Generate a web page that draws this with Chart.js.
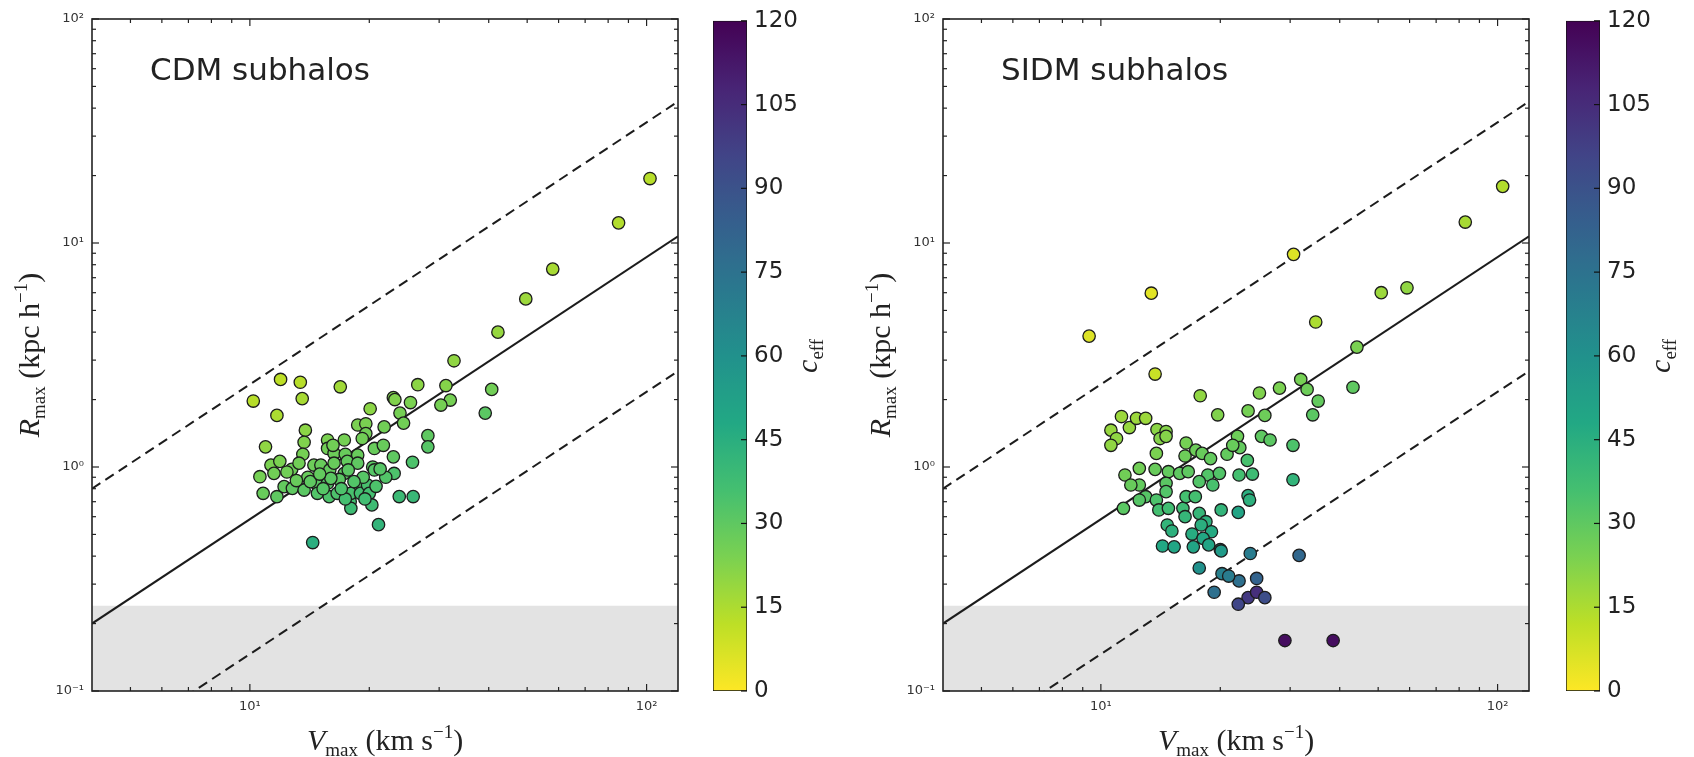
<!DOCTYPE html>
<html>
<head>
<meta charset="utf-8">
<script src="https://cdn.jsdelivr.net/npm/chart.js@4.4.0/dist/chart.umd.min.js"></script>
<style>
  html, body { margin: 0; padding: 0; background: #fff; }
  body { width: 1694px; height: 757px; position: relative; overflow: hidden; }
  canvas { position: absolute; top: 0; }
</style>
</head>
<body>
<canvas id="cdmCanvas" width="700" height="757" style="left:0px"></canvas>
<canvas id="cdmBar" width="130" height="757" style="left:713px"></canvas>
<canvas id="sidmCanvas" width="700" height="757" style="left:851px"></canvas>
<canvas id="sidmBar" width="130" height="757" style="left:1566px"></canvas>
<script>
// CDM subhalos (Vmax in km/s, Rmax in kpc/h, c_eff)
var cdmVmax = [
  102, 85, 58, 49.6, 42.2, 32.7, 31.2, 32.0, 30.3, 40.7,
  39.2, 26.5, 23.0, 23.2, 25.4, 23.9, 24.4, 21.8, 28.1, 28.1,
  25.7, 23.1, 23.8, 25.8, 21.1, 14.4, 10.2, 11.95, 13.4, 13.55,
  16.9, 11.7, 20.1, 10.95, 13.8, 13.7, 13.6,
  15.7, 17.3, 18.7, 19.6, 19.6, 19.2, 15.7, 16.3, 17.4, 18.7, 20.6, 21.7, 23.0,
  11.3, 11.9, 11.5, 10.6, 12.75, 13.3, 14.5, 15.1, 15.9, 16.3, 17.3, 17.6, 18.7, 20.4, 20.6, 22.0,
  10.8, 11.7, 12.2, 12.8, 13.7, 14.8, 14.8, 15.7, 15.85, 16.6, 17.9, 17.97, 17.97, 17.4, 18.9, 19.0, 19.8, 20.0, 20.3,
  12.4, 14.0, 16.8, 19.3, 21.3,
  14.2, 15.3, 16.0, 17.0, 18.3, 19.5, 20.8, 13.1, 15.0, 17.7, 16.2
];
var cdmRmax = [
  19.4, 12.3, 7.65, 5.63, 4.0, 2.98, 2.31, 1.99, 1.89, 2.22,
  1.74, 2.33, 2.04, 2.0, 1.94, 1.74, 1.57, 1.51, 1.38, 1.23,
  1.05, 0.936, 0.738, 0.738, 0.553, 0.46, 1.97, 2.46, 2.39, 2.02,
  2.28, 1.70, 1.82, 1.23, 1.46, 1.29, 1.14,
  1.32, 1.32, 1.54, 1.56, 1.41, 1.34, 1.21, 1.15, 1.14, 1.13, 1.21, 1.25, 1.11,
  1.02, 1.06, 0.937, 0.905, 0.976, 1.04, 1.02, 1.02, 0.97, 1.04, 0.937, 1.06, 1.04, 1.0, 0.97, 0.90,
  0.763, 0.737, 0.817, 0.803, 0.789, 0.831, 0.763, 0.846, 0.737, 0.763, 0.70, 0.763, 0.654, 0.72, 0.831, 0.763, 0.831, 0.763, 0.677,
  0.95, 0.90, 0.88, 0.90, 0.98,
  0.86, 0.80, 0.89, 0.80, 0.86, 0.72, 0.82, 0.87, 0.93, 0.97, 1.25
];
var cdmCeff = [
  13, 14, 16, 18, 19, 20, 22, 25, 25, 26,
  31, 21, 23, 23, 24, 25, 26, 26, 30, 32,
  34, 34, 39, 40, 42, 45, 13, 12, 13, 16,
  17, 15, 21, 20, 21, 23, 25,
  24, 25, 24, 24, 26, 26, 26, 27, 28, 28, 28, 28, 30,
  24, 24, 26, 25, 27, 26, 27, 28, 29, 28, 30, 29, 30, 31, 32, 33,
  28, 30, 29, 30, 31, 31, 33, 32, 34, 34, 36, 35, 38, 36, 34, 36, 35, 36, 38,
  26, 28, 31, 32, 32,
  30, 32, 31, 34, 33, 37, 34, 28, 29, 31, 26
];

// SIDM subhalos
var sidmVmax = [
  103, 82.9, 30.6, 13.4, 9.34, 13.7, 50.9, 59.1, 34.8, 44.2,
  43.2, 31.9, 33.1, 35.3, 34.2, 28.2, 25.1, 23.5, 25.9, 17.8,
  19.7, 25.4, 26.7, 30.5, 30.5, 31.6, 23.8, 29.1, 38.5, 23.5,
  24.1, 23.4, 22.2, 22.3, 24.7, 23.5, 22.2, 24.7, 25.9, 19.3,
  20.2, 21.0, 17.7, 20.0,
  11.27, 10.6, 10.95, 10.6, 11.8, 12.3, 12.97, 13.85, 14.6, 14.1,
  14.6, 13.8, 16.4, 16.3, 17.35, 18.0, 18.9, 20.8, 22.1, 22.4,
  21.5, 22.3, 11.5, 12.5, 13.7, 14.8, 15.8, 16.6, 18.6, 19.9,
  19.15, 17.7, 12.5, 11.9, 14.6, 14.6, 12.97, 12.5, 13.8, 11.4,
  14.0, 14.8, 16.1, 16.4, 17.3, 16.3, 17.7, 18.4, 19.0, 17.9,
  14.7, 15.1, 16.97, 18.1, 14.3, 15.3, 17.1, 18.7, 20.1, 20.1,
  23.7
];
var sidmRmax = [
  17.9, 12.4, 8.9, 5.97, 3.84, 2.6, 6.0, 6.31, 4.44, 3.43,
  2.27, 2.46, 2.22, 1.97, 1.71, 2.25, 2.14, 1.78, 1.70, 2.08,
  1.71, 1.37, 1.32, 1.25, 0.877, 0.403, 0.411, 0.168, 0.168, 0.745,
  0.93, 1.07, 0.627, 0.31, 0.318, 0.261, 0.244, 0.276, 0.261, 0.276,
  0.334, 0.326, 0.354, 0.428,
  1.68, 1.46, 1.34, 1.25, 1.50, 1.65, 1.65, 1.47, 1.44, 1.34,
  1.37, 1.15, 1.28, 1.12, 1.19, 1.15, 1.09, 1.14, 1.37, 1.22,
  1.25, 0.921, 0.921, 0.986, 0.976, 0.953, 0.937, 0.953, 0.921, 0.937,
  0.831, 0.86, 0.831, 0.831, 0.846, 0.776, 0.737, 0.712, 0.712, 0.654,
  0.643, 0.654, 0.654, 0.737, 0.737, 0.60, 0.621, 0.57, 0.514, 0.551,
  0.551, 0.518, 0.502, 0.48, 0.444, 0.44, 0.44, 0.449, 0.422, 0.643,
  0.712
];
var sidmCeff = [
  14, 16, 6, 5, 6, 10, 18, 20, 15, 24,
  30, 25, 27, 29, 31, 24, 23, 25, 27, 20,
  23, 30, 31, 34, 42, 80, 70, 116, 116, 45,
  38, 35, 50, 76, 82, 100, 95, 104, 92, 76,
  68, 70, 60, 58,
  18, 19, 20, 20, 19, 18, 18, 21, 22, 22,
  22, 24, 25, 27, 27, 28, 29, 29, 27, 29,
  28, 36, 26, 26, 28, 29, 30, 30, 33, 33,
  35, 33, 29, 28, 31, 33, 32, 32, 34, 31,
  36, 37, 38, 36, 36, 41, 41, 44, 47, 45,
  42, 44, 46, 48, 48, 49, 50, 50, 55, 42,
  44
];

// reference relation and its factor-of-4 band
var lineVmax = [4, 120];
var lineRmax = [0.2, 10.7];
var upperRmax = [0.8, 42.8];
var lowerRmax = [0.05, 2.68];
var resolutionRmax = 0.24;

var xMajorTicks = [10, 100];
var xMinorTicks = [5, 6, 7, 8, 9, 20, 30, 40, 50, 60, 70, 80, 90];
var yMajorTicks = [0.1, 1, 10, 100];
var yMinorTicks = [0.2, 0.3, 0.4, 0.5, 0.6, 0.7, 0.8, 0.9, 2, 3, 4, 5, 6, 7, 8, 9, 20, 30, 40, 50, 60, 70, 80, 90];
var ceffTicks = [0, 15, 30, 45, 60, 75, 90, 105, 120];

var viridisStops = ['#440154', '#482475', '#414487', '#355f8d', '#2a788e', '#21918c',
                    '#22a884', '#44bf70', '#7ad151', '#bddf26', '#fde725'];

function hexRgb(h) {
  return [parseInt(h.substr(1, 2), 16), parseInt(h.substr(3, 2), 16), parseInt(h.substr(5, 2), 16)];
}
function viridis(t) {
  t = Math.max(0, Math.min(1, t));
  var s = t * 10, i = Math.min(9, Math.floor(s)), f = s - i;
  var a = hexRgb(viridisStops[i]), b = hexRgb(viridisStops[i + 1]);
  return 'rgb(' + [0, 1, 2].map(function (k) { return Math.round(a[k] + (b[k] - a[k]) * f); }).join(',') + ')';
}
function ceffColor(c) { return viridis(1 - c / 120); }

var supMap = { '-': '⁻', '0': '⁰', '1': '¹', '2': '²', '3': '³' };
function powLabel(v) {
  var e = String(Math.round(Math.log10(v)));
  return '10' + e.split('').map(function (ch) { return supMap[ch]; }).join('');
}

var serif = "'Liberation Serif', 'DejaVu Serif', serif";
var bigFont = '30px ' + serif, italFont = 'italic 30px ' + serif, smallFont = '19px ' + serif;

function drawParts(ctx, parts, cx, baseline) {
  var total = 0;
  parts.forEach(function (p) { ctx.font = p.font; p.w = ctx.measureText(p.text).width; total += p.w; });
  var x = cx - total / 2;
  ctx.textAlign = 'left';
  ctx.textBaseline = 'alphabetic';
  parts.forEach(function (p) { ctx.font = p.font; ctx.fillText(p.text, x, baseline + (p.dy || 0)); x += p.w; });
}

var panelDecor = {
  id: 'panelDecor',
  afterDatasetsDraw: function (chart, args, opts) {
    var ctx = chart.ctx, a = chart.chartArea, xs = chart.scales.x, ys = chart.scales.y;
    ctx.save();
    ctx.strokeStyle = '#222';
    ctx.lineWidth = 1.2;
    function seg(x1, y1, x2, y2) { ctx.beginPath(); ctx.moveTo(x1, y1); ctx.lineTo(x2, y2); ctx.stroke(); }
    xMajorTicks.forEach(function (v) { var p = xs.getPixelForValue(v); seg(p, a.bottom, p, a.bottom - 7); seg(p, a.top, p, a.top + 7); });
    xMinorTicks.forEach(function (v) { var p = xs.getPixelForValue(v); seg(p, a.bottom, p, a.bottom - 4); seg(p, a.top, p, a.top + 4); });
    yMajorTicks.forEach(function (v) { var p = ys.getPixelForValue(v); seg(a.left, p, a.left + 7, p); seg(a.right, p, a.right - 7, p); });
    yMinorTicks.forEach(function (v) { var p = ys.getPixelForValue(v); seg(a.left, p, a.left + 4, p); seg(a.right, p, a.right - 4, p); });
    ctx.lineWidth = 1.6;
    ctx.strokeRect(a.left, a.top, a.right - a.left, a.bottom - a.top);

    ctx.fillStyle = '#222';
    ctx.font = '31px "DejaVu Sans"';
    ctx.textAlign = 'left';
    ctx.textBaseline = 'alphabetic';
    ctx.fillText(opts.label, a.left + 58, 80);

    drawParts(ctx, [
      { text: 'V', font: italFont },
      { text: 'max', font: smallFont, dy: 6 },
      { text: ' (km s', font: bigFont },
      { text: '−1', font: smallFont, dy: -12 },
      { text: ')', font: bigFont }
    ], (a.left + a.right) / 2, 750);

    ctx.translate(a.left - 63, (a.top + a.bottom) / 2);
    ctx.rotate(-Math.PI / 2);
    drawParts(ctx, [
      { text: 'R', font: italFont },
      { text: 'max', font: smallFont, dy: 6 },
      { text: ' (kpc h', font: bigFont },
      { text: '−1', font: smallFont, dy: -12 },
      { text: ')', font: bigFont }
    ], 0, 10);
    ctx.restore();
  }
};

function pairs(xs, ys) { return xs.map(function (x, i) { return { x: x, y: ys[i] }; }); }

function makePanel(id, label, vmax, rmax, ceff) {
  new Chart(document.getElementById(id), {
    type: 'scatter',
    data: {
      datasets: [{
        data: pairs(vmax, rmax),
        backgroundColor: ceff.map(ceffColor),
        borderColor: '#1c1c1c',
        borderWidth: 1.3,
        pointRadius: 6.2,
        order: 0
      }, {
        data: pairs(lineVmax, lineRmax),
        showLine: true, pointRadius: 0, borderColor: '#1c1c1c', borderWidth: 2, order: 1
      }, {
        data: pairs(lineVmax, upperRmax),
        showLine: true, pointRadius: 0, borderColor: '#1c1c1c', borderWidth: 2, borderDash: [10, 6], order: 1
      }, {
        data: pairs(lineVmax, lowerRmax),
        showLine: true, pointRadius: 0, borderColor: '#1c1c1c', borderWidth: 2, borderDash: [10, 6], order: 1
      }, {
        data: pairs(lineVmax, [resolutionRmax, resolutionRmax]),
        showLine: true, pointRadius: 0, borderWidth: 0, fill: 'start', backgroundColor: '#e3e3e3', order: 3
      }]
    },
    options: {
      responsive: false,
      animation: false,
      devicePixelRatio: 1,
      events: [],
      layout: { padding: { top: 19, right: 22, left: 0, bottom: 0 } },
      scales: {
        x: {
          type: 'logarithmic', min: 4, max: 120,
          afterBuildTicks: function (s) { s.ticks = xMajorTicks.map(function (v) { return { value: v }; }); },
          afterFit: function (s) { s.height = 66; },
          ticks: { callback: powLabel, autoSkip: false, maxRotation: 0, padding: 8, color: '#333', font: { family: 'DejaVu Sans', size: 13 } },
          grid: { display: false, drawTicks: false },
          border: { display: false }
        },
        y: {
          type: 'logarithmic', min: 0.1, max: 100,
          afterBuildTicks: function (s) { s.ticks = yMajorTicks.map(function (v) { return { value: v }; }); },
          afterFit: function (s) { s.width = 92; },
          ticks: { callback: powLabel, autoSkip: false, padding: 8, color: '#333', font: { family: 'DejaVu Sans', size: 13 } },
          grid: { display: false, drawTicks: false },
          border: { display: false }
        }
      },
      plugins: {
        legend: { display: false },
        tooltip: { enabled: false },
        panelDecor: { label: label }
      }
    },
    plugins: [panelDecor]
  });
}

var barDecor = {
  id: 'barDecor',
  afterDatasetsDraw: function (chart) {
    var ctx = chart.ctx, a = chart.chartArea, ys = chart.scales.y;
    ctx.save();
    ctx.strokeStyle = '#111';
    ctx.lineWidth = 1.2;
    ceffTicks.forEach(function (v) {
      var p = ys.getPixelForValue(v);
      ctx.beginPath(); ctx.moveTo(a.right, p); ctx.lineTo(a.right - 6, p); ctx.stroke();
    });
    ctx.fillStyle = '#222';
    ctx.translate(a.right + 62, (a.top + a.bottom) / 2);
    ctx.rotate(-Math.PI / 2);
    drawParts(ctx, [
      { text: 'c', font: italFont },
      { text: 'eff', font: smallFont, dy: 6 }
    ], 0, 8);
    ctx.restore();
  }
};

function makeBar(id) {
  new Chart(document.getElementById(id), {
    type: 'bar',
    data: {
      labels: ['c_eff'],
      datasets: [{
        data: [[ceffTicks[0], ceffTicks[ceffTicks.length - 1]]],
        backgroundColor: function (c) {
          var area = c.chart.chartArea;
          if (!area) return '#888';
          var g = c.chart.ctx.createLinearGradient(0, area.bottom, 0, area.top);
          for (var i = 0; i <= 20; i++) g.addColorStop(i / 20, viridis(1 - i / 20));
          return g;
        },
        borderColor: '#111',
        borderWidth: 1,
        borderSkipped: false,
        barPercentage: 1,
        categoryPercentage: 1
      }]
    },
    options: {
      responsive: false,
      animation: false,
      devicePixelRatio: 1,
      events: [],
      layout: { padding: { top: 19, bottom: 66, left: 0, right: 0 } },
      scales: {
        x: { display: false },
        y: {
          position: 'right', min: 0, max: 120,
          afterBuildTicks: function (s) { s.ticks = ceffTicks.map(function (v) { return { value: v }; }); },
          afterFit: function (s) { s.width = 96; },
          ticks: { padding: 7, color: '#222', font: { family: 'DejaVu Sans', size: 23 } },
          grid: { display: false, drawTicks: false },
          border: { display: false }
        }
      },
      plugins: { legend: { display: false }, tooltip: { enabled: false } }
    },
    plugins: [barDecor]
  });
}

makePanel('cdmCanvas', 'CDM subhalos', cdmVmax, cdmRmax, cdmCeff);
makeBar('cdmBar');
makePanel('sidmCanvas', 'SIDM subhalos', sidmVmax, sidmRmax, sidmCeff);
makeBar('sidmBar');
</script>
</body>
</html>
